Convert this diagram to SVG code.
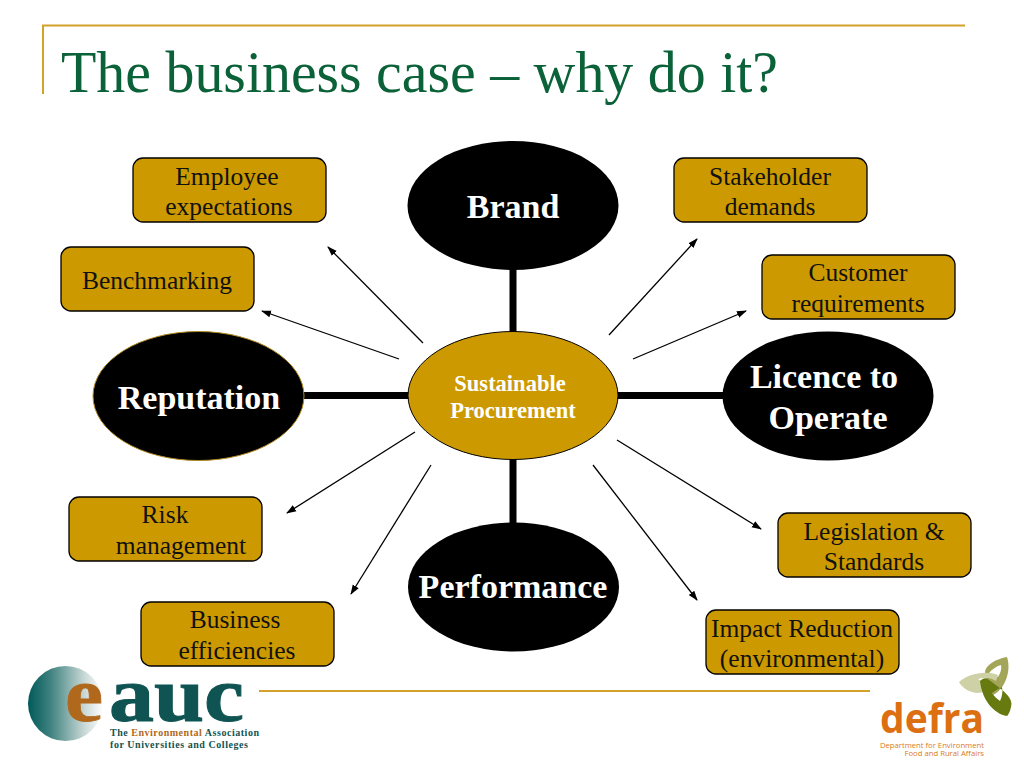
<svg xmlns="http://www.w3.org/2000/svg" width="1024" height="768" viewBox="0 0 1024 768">
<defs>
<marker id="arrow" viewBox="0 0 10 10" refX="9" refY="5" markerWidth="10" markerHeight="10" markerUnits="userSpaceOnUse" orient="auto"><path d="M0 1.500L10 5L0 8.500Z" fill="#000"/></marker>
<linearGradient id="globe" x1="0" x2="1" y1="0" y2="0"><stop offset="0" stop-color="#005a58"/><stop offset="0.3" stop-color="#3f8280"/><stop offset="0.75" stop-color="#c8d8d6"/><stop offset="1" stop-color="#ffffff"/></linearGradient>
</defs>
<style>
text{font-family:"Liberation Serif","Times New Roman",serif}
.box{fill:#cc9900;stroke:#000;stroke-width:1.300}
.t{font-size:25.500px;fill:#111;text-anchor:middle}
.big{font-size:34px;font-weight:bold;fill:#fff;text-anchor:middle}
.oval{fill:#000}
.thick{stroke:#000;stroke-width:7;fill:none}
.thin{stroke:#000;stroke-width:1.300;fill:none;marker-end:url(#arrow)}
.rule{stroke:#d2a22a;stroke-width:2;fill:none}
.sans{font-family:"Open Sans","Liberation Sans",sans-serif}
.mid{font-size:22.500px;font-weight:bold;fill:#fff;text-anchor:middle}
</style>
<rect width="1024" height="768" fill="#fff"/>
<g id="frame"><path class="rule" d="M965 25.500H43V94"/><path class="rule" d="M259 691H870"/></g>
<text id="title" x="61" y="92" font-size="60" fill="#0b6239" textLength="717" lengthAdjust="spacingAndGlyphs">The business case – why do it?</text>
<g id="connectors">
<path class="thick" d="M513 268V334M513 458V524M303 395.500H410M617 395.500H724"/>
<path class="thin" d="M423 343L328 247"/>
<path class="thin" d="M399 359L262 311"/>
<path class="thin" d="M609 335L697 239"/>
<path class="thin" d="M633 359L746 311"/>
<path class="thin" d="M415 432L287 513"/>
<path class="thin" d="M431 465L351 594"/>
<path class="thin" d="M617 440L761 529"/>
<path class="thin" d="M593 465L697 600"/>
</g>
<g id="brand"><ellipse class="oval" cx="513" cy="205.500" rx="105.500" ry="64.500"/><text class="big" x="513" y="218">Brand</text></g>
<g id="reputation"><ellipse class="oval" cx="198.500" cy="396" rx="105.500" ry="64.500" stroke="#b08a20"/><text class="big" x="199" y="409">Reputation</text></g>
<g id="licence"><ellipse class="oval" cx="828" cy="396" rx="105.500" ry="64.500"/><text class="big" x="824" y="388">Licence to</text><text class="big" x="828" y="429">Operate</text></g>
<g id="performance"><ellipse class="oval" cx="513.500" cy="587" rx="105.500" ry="64.500"/><text class="big" x="513" y="598">Performance</text></g>
<g id="center"><ellipse cx="513" cy="395.500" rx="105" ry="64" fill="#cc9900" stroke="#000" stroke-width="1"/><text class="mid" x="510" y="391">Sustainable</text><text class="mid" x="513" y="418">Procurement</text></g>
<g id="employee"><rect class="box" x="133" y="158" width="193" height="64" rx="10"/><text class="t" x="227" y="185">Employee</text><text class="t" x="229" y="215">expectations</text></g>
<g id="benchmarking"><rect class="box" x="61" y="247" width="193" height="64" rx="10"/><text class="t" x="157" y="289">Benchmarking</text></g>
<g id="stakeholder"><rect class="box" x="674" y="158" width="193" height="64" rx="10"/><text class="t" x="770" y="185">Stakeholder</text><text class="t" x="770" y="215">demands</text></g>
<g id="customer"><rect class="box" x="762" y="255" width="193" height="64" rx="10"/><text class="t" x="858" y="281">Customer</text><text class="t" x="858" y="312">requirements</text></g>
<g id="risk"><rect class="box" x="69" y="497" width="193" height="64" rx="10"/><text class="t" x="165" y="523">Risk</text><text class="t" x="181" y="554">management</text></g>
<g id="business"><rect class="box" x="141" y="602" width="193" height="64" rx="10"/><text class="t" x="235" y="628">Business</text><text class="t" x="237" y="659">efficiencies</text></g>
<g id="legislation"><rect class="box" x="778" y="513" width="193" height="64" rx="10"/><text class="t" x="874" y="540">Legislation &amp;</text><text class="t" x="874" y="570">Standards</text></g>
<g id="impact"><rect class="box" x="706" y="610" width="193" height="64" rx="10"/><text class="t" x="802" y="637">Impact Reduction</text><text class="t" x="802" y="667">(environmental)</text></g>
<g id="eauc-logo">
<circle cx="65.500" cy="703.500" r="37.500" fill="url(#globe)"/>
<text x="65" y="721" font-size="78" font-weight="bold" fill="#b0691c" stroke="#b0691c" stroke-width="0.800" textLength="38" lengthAdjust="spacingAndGlyphs">e</text>
<text x="109" y="721" font-size="78" font-weight="bold" fill="#0f5453" stroke="#0f5453" stroke-width="1" textLength="135" lengthAdjust="spacingAndGlyphs">auc</text>
<text x="110" y="736" font-size="10" font-weight="bold" fill="#0f5453" textLength="149">The <tspan fill="#b0691c">Environmental</tspan> Association</text>
<text x="110" y="748" font-size="10" font-weight="bold" fill="#0f5453" textLength="138">for Universities and Colleges</text>
</g>
<g id="defra-logo">
<path fill-rule="evenodd" d="M1007 657C992 660 982 668 986 676C988 684 990 690 993 695C1004 690 1012 672 1007 657ZM989 673C992 669 997 666 1001 665C1002 669 1000 674 998 677C995 675 992 674 989 673Z" fill="#a3a558"/>
<path fill-rule="evenodd" d="M959 682C968 674 985 670 998 675L996 681C988 676 983 678 978 679C982 682 989 682 992 683C989 690 983 693 977 693C969 692 962 688 959 682Z" fill="#cdd1a5"/>
<path fill-rule="evenodd" d="M980 681C983 678 986 677 989 680C1003 690 1014 698 1011 707C1010 712 1008 715 1007 716C994 714 982 700 980 681ZM992 693C996 690 1000 688 1002 687C1003 692 1002 697 1000 701C997 699 994 696 992 693Z" fill="#667a10"/>
<text class="sans" x="880" y="733" font-size="42" font-weight="bold" fill="#dd6f13" textLength="104" lengthAdjust="spacingAndGlyphs">defra</text>
<text class="sans" x="984" y="747.500" font-size="7.700" fill="#dd7a22" text-anchor="end">Department for Environment</text>
<text class="sans" x="984" y="755.500" font-size="7.700" fill="#dd7a22" text-anchor="end">Food and Rural Affairs</text>
</g>
</svg>
